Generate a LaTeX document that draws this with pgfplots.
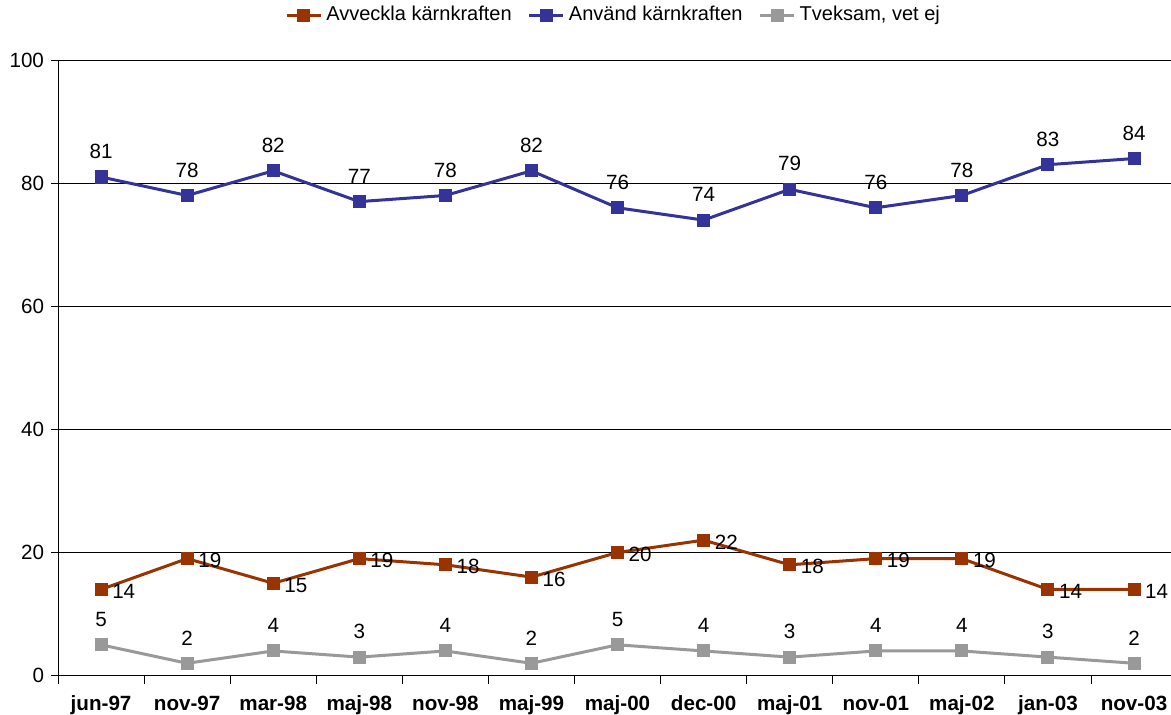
\documentclass[border=0pt]{standalone}
\usepackage{pgfplots}
\pgfplotsset{compat=1.18}
\usepackage{fontspec}
\setmainfont{Liberation Sans}

\definecolor{avveckla}{HTML}{993300}
\definecolor{anvand}{HTML}{333399}
\definecolor{tveksam}{HTML}{999999}

\begin{document}
\begin{tikzpicture}
\fontsize{10}{12}\selectfont
\begin{axis}[
    scale only axis,
    width=556pt, height=307.5pt,
    xmin=-0.5, xmax=12.43,
    ymin=0, ymax=100,
    ytick={0,20,...,100},
    xtick={0,...,12},
    xticklabels={jun-97,nov-97,mar-98,maj-98,nov-98,maj-99,maj-00,dec-00,maj-01,nov-01,maj-02,jan-03,nov-03},
    xticklabel style={font=\fontsize{10.3}{12}\selectfont\bfseries, yshift=-3pt},
    yticklabel style={font=\fontsize{10.3}{12}\selectfont},
    minor xtick={-0.5,0.5,...,12.5},
    major x tick style={draw=none},
    minor x tick style={black, thin},
    minor tick length=4pt,
    major tick length=3.5pt,
    tick align=outside,
    y tick style={black, thin},
    axis x line*=bottom,
    axis y line*=left,
    axis line style={black, thin},
    ymajorgrids,
    grid style={black, thin},
    /pgf/number format/assume math mode=true,
    clip=false,
    legend style={at={(0.5,1)}, anchor=center, yshift=22.5pt, draw=none,
        font=\fontsize{10}{12}\selectfont, legend columns=-1,
        /tikz/every even column/.append style={column sep=6pt}},
    legend image post style={line width=1.5pt},
    every axis plot/.append style={line width=1.5pt, mark=square*, mark size=2.5pt},
    nodes near coords,
    nodes near coords style={font=\fontsize{10.3}{12}\selectfont, text=black},
]
\addplot[color=avveckla, nodes near coords style={anchor=west, xshift=1.5pt, yshift=-1pt}] coordinates {
    (0,14) (1,19) (2,15) (3,19) (4,18) (5,16) (6,20) (7,22) (8,18) (9,19) (10,19) (11,14) (12,14)
};
\addlegendentry{Avveckla kärnkraften}
\addplot[color=anvand, nodes near coords style={anchor=south, yshift=5pt}] coordinates {
    (0,81) (1,78) (2,82) (3,77) (4,78) (5,82) (6,76) (7,74) (8,79) (9,76) (10,78) (11,83) (12,84)
};
\addlegendentry{Använd kärnkraften}
\addplot[color=tveksam, nodes near coords style={anchor=south, yshift=5pt}] coordinates {
    (0,5) (1,2) (2,4) (3,3) (4,4) (5,2) (6,5) (7,4) (8,3) (9,4) (10,4) (11,3) (12,2)
};
\addlegendentry{Tveksam, vet ej}
\end{axis}
\pgfresetboundingbox
\path[use as bounding box] ([xshift=-29pt, yshift=-19.5pt]current axis.south west) rectangle ([yshift=30pt]current axis.north east);
\end{tikzpicture}
\end{document}
